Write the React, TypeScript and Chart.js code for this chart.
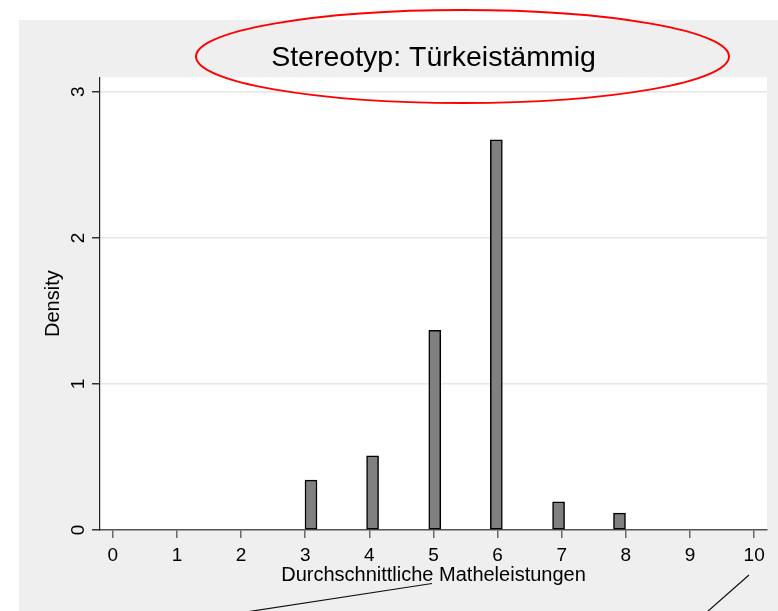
import React, { useEffect, useRef } from "react";
import { Chart, registerables } from "chart.js";

Chart.register(...registerables);

// Histogram data (bin centres on the x axis, densities on the y axis)
const binCenters: number[] = [3.09, 4.05, 5.02, 5.98, 6.95, 7.9];
const densities: number[] = [0.342, 0.508, 1.367, 2.672, 0.193, 0.116];
const xTickValues: number[] = [0, 1, 2, 3, 4, 5, 6, 7, 8, 9, 10];
const yTickValues: number[] = [0, 1, 2, 3];

const titleText = "Stereotyp: Türkeistämmig";
const xTitle = "Durchschnittliche Matheleistungen";
const yTitle = "Density";

const FONT = "'Liberation Sans', Arial, Helvetica, sans-serif";

const backgroundPlugin = {
  id: "stataBackground",
  beforeDraw(chart: any) {
    const { ctx, chartArea, width, height } = chart;
    ctx.save();
    ctx.fillStyle = "#ffffff";
    ctx.fillRect(0, 0, width, height);
    ctx.fillStyle = "#efefef";
    ctx.fillRect(19, 20, width - 19, height - 20);
    ctx.fillStyle = "#ffffff";
    ctx.fillRect(
      chartArea.left,
      chartArea.top,
      chartArea.right - chartArea.left,
      chartArea.bottom - chartArea.top
    );
    ctx.restore();
  },
};

const annotationPlugin = {
  id: "handAnnotations",
  afterDraw(chart: any) {
    const { ctx } = chart;
    ctx.save();
    // red ellipse around the title
    ctx.strokeStyle = "#ff0000";
    ctx.lineWidth = 2;
    ctx.beginPath();
    ctx.ellipse(462.5, 56.5, 266.5, 46.5, 0, 0, Math.PI * 2);
    ctx.stroke();
    // black pointer lines at the bottom
    ctx.strokeStyle = "#111111";
    ctx.lineWidth = 1.2;
    ctx.beginPath();
    ctx.moveTo(432, 583.5);
    ctx.lineTo(246, 612);
    ctx.moveTo(749, 575);
    ctx.lineTo(707, 612);
    ctx.stroke();
    ctx.restore();
  },
};

export default function App() {
  const canvasRef = useRef<HTMLCanvasElement | null>(null);

  useEffect(() => {
    if (!canvasRef.current) return;
    Chart.defaults.font.family = FONT;
    const chart = new Chart(canvasRef.current, {
      type: "bar",
      data: {
        datasets: [
          {
            label: yTitle,
            data: binCenters.map((x, i) => ({ x, y: densities[i] })),
            backgroundColor: "#808080",
            borderColor: "#000000",
            borderWidth: 1.5,
            borderSkipped: false,
            barThickness: 12,
          },
        ],
      },
      options: {
        responsive: false,
        animation: false,
        events: [],
        layout: { padding: { left: 19, right: 11, top: 0, bottom: 0 } },
        plugins: {
          legend: { display: false },
          tooltip: { enabled: false },
          title: {
            display: true,
            text: titleText,
            color: "#000000",
            fullSize: false,
            font: { size: 28.5, weight: "normal", family: FONT },
            padding: { top: 41, bottom: 2 },
          },
        },
        scales: {
          x: {
            type: "linear",
            min: -0.2,
            max: 10.2,
            offset: false,
            afterFit: (s: any) => {
              s.height = 81;
            },
            afterBuildTicks: (s: any) => {
              s.ticks = xTickValues.map((v) => ({ value: v }));
            },
            ticks: {
              color: "#000000",
              font: { size: 19, family: FONT },
              padding: 6,
              maxRotation: 0,
              autoSkip: false,
            },
            grid: {
              offset: false,
              drawOnChartArea: false,
              drawTicks: true,
              tickLength: 8,
              color: "#6a6a6a",
              lineWidth: 1.5,
            },
            border: { display: true, color: "#555555", width: 1.5 },
            title: {
              display: true,
              text: xTitle,
              color: "#000000",
              font: { size: 20, family: FONT },
              padding: { top: 0, bottom: 24 },
            },
          },
          y: {
            type: "linear",
            min: 0,
            max: 3.1,
            afterFit: (s: any) => {
              s.width = 81;
            },
            afterBuildTicks: (s: any) => {
              s.ticks = yTickValues.map((v) => ({ value: v }));
            },
            ticks: {
              color: "#000000",
              font: { size: 19, family: FONT },
              padding: 8,
              minRotation: 90,
              maxRotation: 90,
              crossAlign: "center",
              autoSkip: false,
            },
            grid: {
              drawTicks: true,
              tickLength: 8,
              tickColor: "#333333",
              color: (c: any) =>
                c.tick && c.tick.value === 0 ? "rgba(0,0,0,0)" : "#e6e6e6",
              lineWidth: 1.5,
            },
            border: { display: true, color: "#222222", width: 1.2 },
            title: {
              display: true,
              text: yTitle,
              color: "#000000",
              font: { size: 20, family: FONT },
              padding: { top: 22, bottom: 0 },
            },
          },
        },
      },
      plugins: [backgroundPlugin, annotationPlugin],
    } as any);
    return () => chart.destroy();
  }, []);

  return (
    <div
      style={{
        position: "fixed",
        left: 0,
        top: 0,
        width: 778,
        height: 611,
        background: "#ffffff",
      }}
    >
      <canvas
        ref={canvasRef}
        width={778}
        height={611}
        style={{ display: "block", width: 778, height: 611 }}
      />
    </div>
  );
}
